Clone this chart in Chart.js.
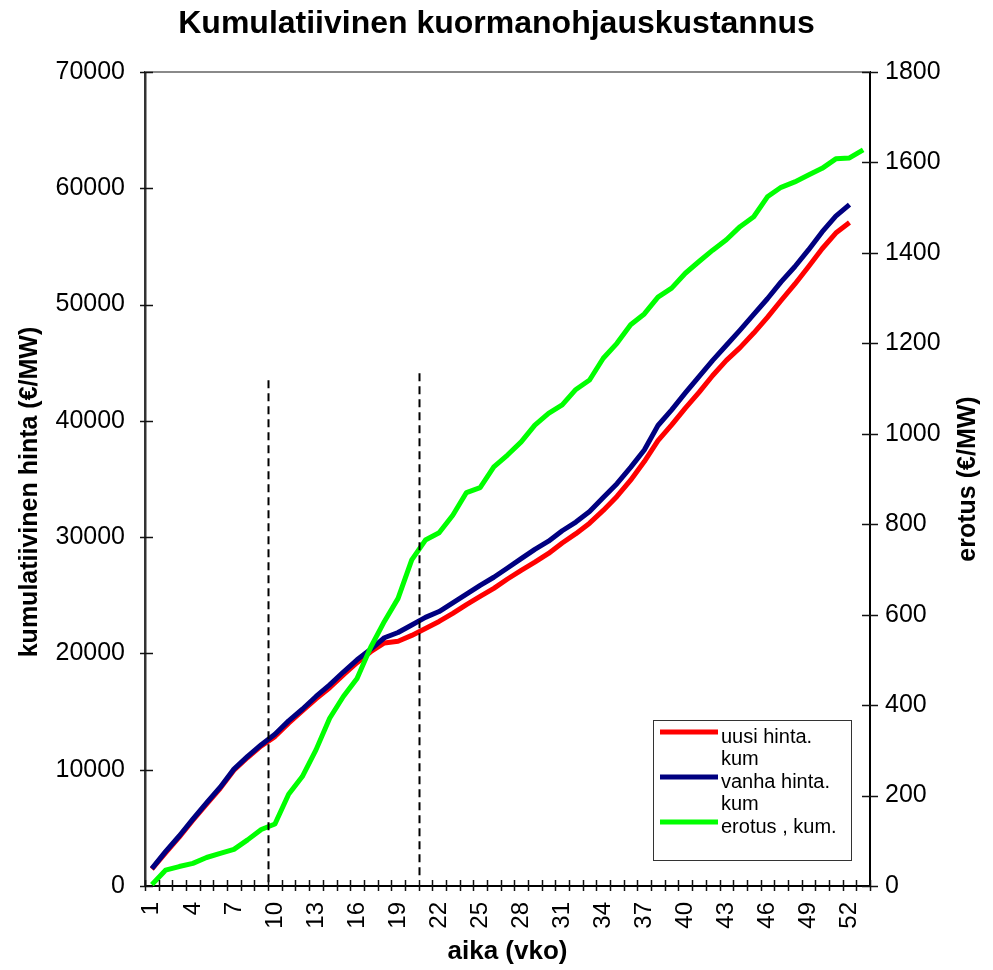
<!DOCTYPE html>
<html>
<head>
<meta charset="utf-8">
<title>Kumulatiivinen kuormanohjauskustannus</title>
<script src="https://cdn.jsdelivr.net/npm/chart.js@4/dist/chart.umd.min.js"></script>
<style>
  html, body { margin: 0; padding: 0; background: #fff; }
  canvas { display: block; }
</style>
</head>
<body>
<canvas id="chart" width="993" height="970"></canvas>
<script>
// Weeks of the year (category axis)
const weeks = [1, 2, 3, 4, 5, 6, 7, 8, 9, 10, 11, 12, 13, 14, 15, 16, 17, 18, 19, 20,
  21, 22, 23, 24, 25, 26, 27, 28, 29, 30, 31, 32, 33, 34, 35, 36, 37, 38, 39, 40,
  41, 42, 43, 44, 45, 46, 47, 48, 49, 50, 51, 52, 53];

// Cumulative price with the new pricing (€/MW), weeks 1–52
const uusiHinta = [1450, 2850, 4200, 5650, 7050, 8400, 9950, 11050, 12050, 12850,
  14000, 15050, 16100, 17050, 18150, 19200, 20150, 20900, 21050, 21550,
  22150, 22750, 23450, 24200, 24900, 25600, 26400, 27150, 27850, 28600,
  29500, 30300, 31200, 32300, 33500, 34900, 36500, 38300, 39650, 41100,
  42450, 43900, 45200, 46300, 47550, 48900, 50350, 51750, 53250, 54800,
  56150, 57050];

// Cumulative price with the old pricing (€/MW), weeks 1–52
const vanhaHinta = [1500, 2950, 4300, 5750, 7150, 8500, 10050, 11150, 12150, 13050,
  14200, 15200, 16300, 17300, 18400, 19450, 20350, 21350, 21800, 22450,
  23100, 23600, 24350, 25100, 25850, 26550, 27350, 28150, 28950, 29650,
  30550, 31300, 32200, 33400, 34600, 36000, 37500, 39600, 40950, 42400,
  43800, 45200, 46500, 47800, 49150, 50500, 51950, 53250, 54700, 56250,
  57600, 58600];

// Cumulative difference (€/MW, right axis), weeks 1–53
const erotus = [3, 35, 43, 50, 63, 72, 81, 102, 125, 137,
  203, 242, 301, 371, 419, 459, 528, 585, 636, 721,
  765, 781, 820, 870, 881, 927, 953, 982, 1019, 1045,
  1064, 1098, 1119, 1167, 1200, 1241, 1265, 1302, 1322, 1355,
  1381, 1406, 1429, 1458, 1480, 1524, 1545, 1557, 1572, 1587,
  1608, 1610, 1628];

// Period dividers: drawn after the given week, from bottom to top value (left axis)
const dividerAfterWeek = [9, 20];
const dividerTop = [43500, 44100];
const dividerBottom = [0, 700];

// Axis ranges
const leftMax = 70000, leftStep = 10000;
const rightMax = 1800, rightStep = 200;

const leftTitle = 'kumulatiivinen hinta (€/MW)';
const rightTitle = 'erotus (€/MW)';
const FONT = '"Liberation Sans", Arial, Helvetica, sans-serif';

Chart.defaults.font.family = FONT;
Chart.defaults.color = '#000';

function wrapText(ctx, text, maxWidth) {
  const words = text.split(' ');
  const lines = [];
  let cur = '';
  words.forEach(w => {
    const test = cur ? cur + ' ' + w : w;
    if (cur && ctx.measureText(test).width > maxWidth) {
      lines.push(cur);
      cur = w;
    } else {
      cur = test;
    }
  });
  if (cur) lines.push(cur);
  return lines;
}

function drawVerticalText(ctx, text, cx, cy) {
  ctx.save();
  ctx.translate(cx, cy);
  ctx.rotate(-Math.PI / 2);
  ctx.font = 'bold 25px ' + FONT;
  ctx.fillStyle = '#000';
  ctx.textAlign = 'center';
  ctx.textBaseline = 'middle';
  ctx.fillText(text, 0, 0);
  ctx.restore();
}

const framePlugin = {
  id: 'frame',
  afterDatasetsDraw(chart) {
    const { ctx, scales: { x, y } } = chart;
    ctx.save();
    ctx.strokeStyle = '#000';
    ctx.lineWidth = 2;
    ctx.setLineDash([8, 5]);
    dividerAfterWeek.forEach((w, i) => {
      const px = Math.round(x.getPixelForValue(weeks.indexOf(w) + 0.5)) + 0.5;
      ctx.beginPath();
      ctx.moveTo(px, y.getPixelForValue(dividerTop[i]));
      ctx.lineTo(px, y.getPixelForValue(dividerBottom[i]));
      ctx.stroke();
    });
    ctx.restore();
  },
  afterDraw(chart) {
    const { ctx, chartArea: a, scales: { x, y, y1 } } = chart;
    ctx.save();

    // plot frame top edge
    ctx.strokeStyle = '#8a8a8a';
    ctx.lineWidth = 2;
    ctx.beginPath();
    ctx.moveTo(a.left, a.top);
    ctx.lineTo(a.right, a.top);
    ctx.stroke();

    // tick marks crossing the axes
    ctx.strokeStyle = '#111';
    ctx.lineWidth = 1.5;
    y.ticks.forEach((t, i) => {
      const py = Math.round(y.getPixelForTick(i)) + 0.5;
      ctx.beginPath(); ctx.moveTo(a.left - 5, py); ctx.lineTo(a.left + 8, py); ctx.stroke();
    });
    y1.ticks.forEach((t, i) => {
      const py = Math.round(y1.getPixelForTick(i)) + 0.5;
      ctx.beginPath(); ctx.moveTo(a.right - 8, py); ctx.lineTo(a.right + 8, py); ctx.stroke();
    });
    for (let i = 0; i <= weeks.length; i++) {
      const px = Math.round(x.getPixelForValue(i - 0.5)) + 0.5;
      ctx.beginPath(); ctx.moveTo(px, a.bottom - 6); ctx.lineTo(px, a.bottom + 5); ctx.stroke();
    }

    // axis titles, reading bottom to top
    const midY = (a.top + a.bottom) / 2;
    drawVerticalText(ctx, leftTitle, a.left - 115, midY + 13);
    drawVerticalText(ctx, rightTitle, a.right + 98, midY);

    // legend box
    const lx = a.right - 217, ly = a.bottom - 166, lw = 198, lh = 140;
    ctx.fillStyle = '#fff';
    ctx.fillRect(lx, ly, lw, lh);
    ctx.strokeStyle = '#333';
    ctx.lineWidth = 1;
    ctx.strokeRect(lx + 0.5, ly + 0.5, lw, lh);
    ctx.font = '20px ' + FONT;
    ctx.textAlign = 'left';
    ctx.textBaseline = 'middle';
    let lineY = ly + 17;
    chart.data.datasets.forEach(ds => {
      ctx.strokeStyle = ds.borderColor;
      ctx.lineWidth = 5;
      ctx.beginPath();
      ctx.moveTo(lx + 7, lineY - 5);
      ctx.lineTo(lx + 65, lineY - 5);
      ctx.stroke();
      ctx.fillStyle = '#000';
      wrapText(ctx, ds.label, 128).forEach(line => {
        ctx.fillText(line, lx + 68, lineY);
        lineY += 22.5;
      });
    });

    ctx.restore();
  }
};

new Chart(document.getElementById('chart'), {
  type: 'line',
  data: {
    labels: weeks,
    datasets: [
      { label: 'uusi hinta. kum', data: uusiHinta, borderColor: '#ff0000', yAxisID: 'y', order: 2 },
      { label: 'vanha hinta. kum', data: vanhaHinta, borderColor: '#000080', yAxisID: 'y', order: 1 },
      { label: 'erotus , kum.', data: erotus, borderColor: '#00ff00', yAxisID: 'y1', order: 0 }
    ]
  },
  options: {
    responsive: false,
    animation: false,
    layout: { padding: 0 },
    elements: {
      line: { borderWidth: 5, tension: 0, fill: false, borderJoinStyle: 'round' },
      point: { radius: 0, hoverRadius: 0 }
    },
    plugins: {
      legend: { display: false },
      tooltip: { enabled: false },
      title: {
        display: true,
        text: 'Kumulatiivinen kuormanohjauskustannus',
        color: '#000',
        font: { size: 32, weight: 'bold' },
        padding: { top: 5, bottom: 28.6 }
      }
    },
    scales: {
      x: {
        type: 'category',
        offset: true,
        grid: { display: false, offset: true, drawTicks: false },
        border: { display: true, color: '#000', width: 2 },
        ticks: {
          autoSkip: false,
          minRotation: 90,
          maxRotation: 90,
          padding: 16,
          color: '#000',
          font: { size: 24 },
          callback: function (v, i) { return i % 3 === 0 ? String(this.getLabelForValue(v)) : ''; }
        },
        title: {
          display: true,
          text: 'aika (vko)',
          color: '#000',
          font: { size: 26, weight: 'bold' },
          padding: { top: 0, bottom: 3 }
        },
        afterFit: s => { s.height = 84; }
      },
      y: {
        position: 'left',
        min: 0,
        max: leftMax,
        grid: { display: false, drawTicks: false },
        border: { display: true, color: '#333', width: 2.5 },
        ticks: { stepSize: leftStep, padding: 20, color: '#000', font: { size: 25 }, callback: v => String(v) },
        afterFit: s => { s.width = 145; }
      },
      y1: {
        position: 'right',
        min: 0,
        max: rightMax,
        grid: { display: false, drawTicks: false },
        border: { display: true, color: '#000', width: 2 },
        ticks: { stepSize: rightStep, padding: 15, color: '#000', font: { size: 25 }, callback: v => String(v) },
        afterFit: s => { s.width = 123; }
      }
    }
  },
  plugins: [framePlugin]
});
</script>
</body>
</html>
